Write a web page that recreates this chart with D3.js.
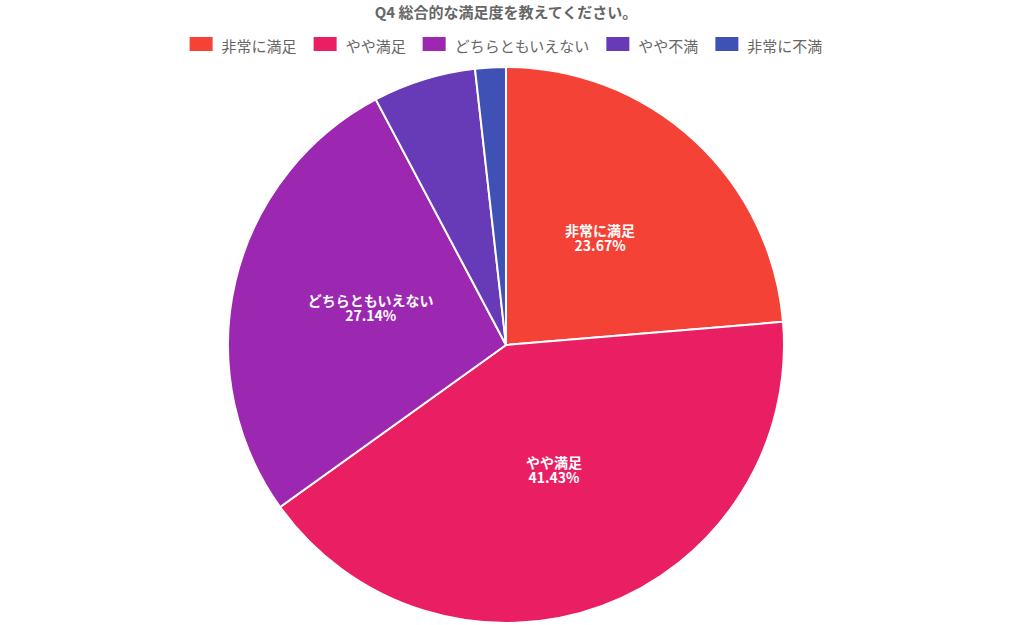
<!DOCTYPE html>
<html>
<head>
<meta charset="utf-8">
<script src="https://cdn.jsdelivr.net/npm/d3@7"></script>
<style>
  body { margin: 0; background: #fff; }
  svg { display: block; font-family: "Noto Sans CJK JP", "Noto Sans", sans-serif; }
</style>
</head>
<body>
<div id="chart"></div>
<script>
// Chart data
const title = 'Q4 総合的な満足度を教えてください。';
const categories = ['非常に満足', 'やや満足', 'どちらともいえない', 'やや不満', '非常に不満'];
const values = [23.67, 41.43, 27.14, 5.98, 1.78];
const colors = ['#f44336', '#e91e63', '#9c27b0', '#673ab7', '#3f51b5'];

const width = 1012, height = 625;
const cx = 506, cy = 345, radius = 278;

const svg = d3.select('#chart').append('svg')
    .attr('width', width)
    .attr('height', height);

// Title
svg.append('text')
    .attr('x', cx)
    .attr('y', 18)
    .attr('text-anchor', 'middle')
    .attr('font-size', '15px')
    .attr('font-weight', 'bold')
    .attr('fill', '#666')
    .text(title);

// Legend - measure items, then center the row
const legend = svg.append('g');
const boxW = 23, boxH = 14, gap = 9, pad = 17;
const items = categories.map((c, i) => {
    const t = legend.append('text')
        .attr('font-size', '15px')
        .attr('fill', '#666')
        .attr('dominant-baseline', 'central')
        .text(c);
    return { t, w: boxW + gap + t.node().getComputedTextLength(), i };
});
const total = d3.sum(items, d => d.w) + pad * (items.length - 1);
let lx = cx - total / 2;
items.forEach(d => {
    legend.append('rect')
        .attr('x', lx)
        .attr('y', 44 - boxH / 2)
        .attr('width', boxW)
        .attr('height', boxH)
        .attr('fill', colors[d.i]);
    d.t.attr('x', lx + boxW + gap).attr('y', 45);
    lx += d.w + pad;
});

// Pie
const pie = d3.pie().sort(null).value(d => d);
const arc = d3.arc().innerRadius(0).outerRadius(radius);
const labelArc = d3.arc().innerRadius(radius * 0.5).outerRadius(radius * 0.5);
const arcs = pie(values);

const g = svg.append('g').attr('transform', `translate(${cx},${cy})`);

g.selectAll('path')
    .data(arcs)
    .enter()
    .append('path')
    .attr('d', arc)
    .attr('fill', (d, i) => colors[i])
    .attr('stroke', '#fff')
    .attr('stroke-width', 2);

// Labels for the bigger slices only
const labels = g.selectAll('.slice-label')
    .data(arcs.filter(d => d.data >= 10))
    .enter()
    .append('text')
    .attr('class', 'slice-label')
    .attr('transform', d => `translate(${labelArc.centroid(d)})`)
    .attr('text-anchor', 'middle')
    .attr('font-size', '14px')
    .attr('font-weight', 'bold')
    .attr('fill', '#fff');

labels.append('tspan')
    .attr('x', 0)
    .attr('y', -7)
    .text(d => categories[d.index]);
labels.append('tspan')
    .attr('x', 0)
    .attr('y', 8)
    .text(d => d.data.toFixed(2) + '%');
</script>
</body>
</html>
